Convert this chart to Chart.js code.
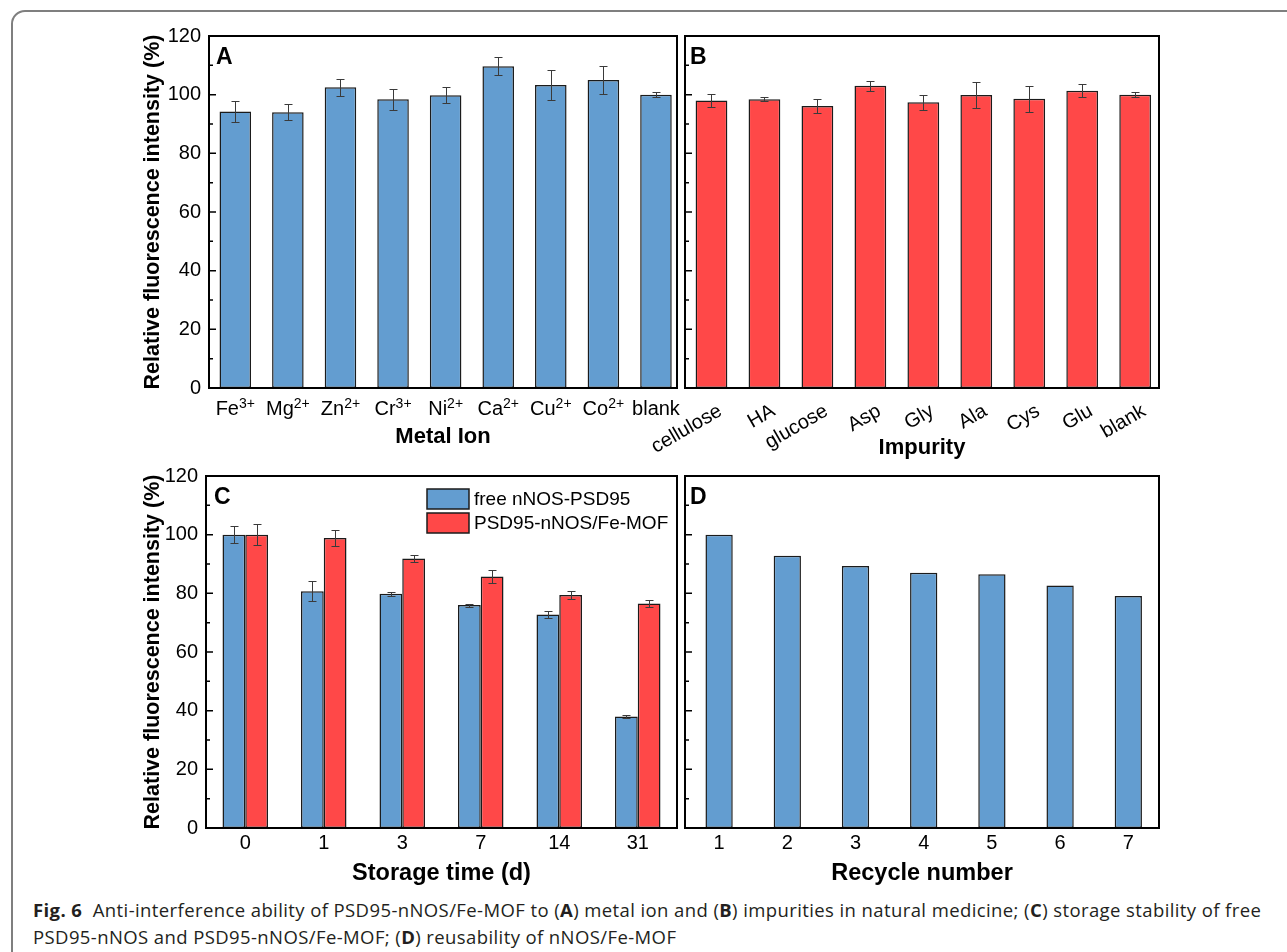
<!DOCTYPE html>
<html>
<head>
<meta charset="utf-8">
<script src="https://cdn.jsdelivr.net/npm/chart.js@4.4.0/dist/chart.umd.min.js"></script>
<style>
  body { margin: 0; background: #fff; width: 1287px; height: 952px; overflow: hidden; position: relative; }
  .frame { position: absolute; left: 11px; top: 10px; width: 1400px; height: 1000px; border: 2px solid #7f7f7f; border-radius: 14px; }
  canvas { position: absolute; }
  .caption { position: absolute; left: 33px; top: 896px; font-family: "Open Sans", sans-serif; font-size: 18.5px; letter-spacing: 0.4px; line-height: 27px; color: #231f20; white-space: nowrap; }
</style>
</head>
<body>
<div class="frame"></div>
<canvas id="chartA"></canvas>
<canvas id="chartB"></canvas>
<canvas id="chartC"></canvas>
<canvas id="chartD"></canvas>
<div class="caption"><b>Fig. 6</b>&nbsp; Anti-interference ability of PSD95-nNOS/Fe-MOF to (<b>A</b>) metal ion and (<b>B</b>) impurities in natural medicine; (<b>C</b>) storage stability of free<br>PSD95-nNOS and PSD95-nNOS/Fe-MOF; (<b>D</b>) reusability of nNOS/Fe-MOF</div>
<script>
// Data
const metalIons = ["Fe3+", "Mg2+", "Zn2+", "Cr3+", "Ni2+", "Ca2+", "Cu2+", "Co2+", "blank"];
const metalValues = [94.3, 94.0, 102.5, 98.4, 99.8, 109.7, 103.3, 105.0, 100.0];
const metalErrors = [3.6, 2.7, 3.0, 3.7, 2.7, 3.1, 5.0, 4.7, 0.9];

const impurities = ["cellulose", "HA", "glucose", "Asp", "Gly", "Ala", "Cys", "Glu", "blank"];
const impurityValues = [98.0, 98.4, 96.1, 103.0, 97.4, 99.9, 98.6, 101.3, 100.0];
const impurityErrors = [2.3, 0.7, 2.4, 1.8, 2.6, 4.4, 4.5, 2.2, 0.9];

const storageDays = ["0", "1", "3", "7", "14", "31"];
const freeValues = [100.0, 80.7, 79.9, 76.0, 72.8, 38.0];
const freeErrors = [3.0, 3.4, 0.7, 0.5, 1.2, 0.6];
const mofValues = [100.0, 98.9, 91.9, 85.7, 79.4, 76.5];
const mofErrors = [3.6, 2.7, 1.2, 2.3, 1.5, 1.2];

const recycleNumbers = ["1", "2", "3", "4", "5", "6", "7"];
const recycleValues = [100.0, 92.8, 89.3, 87.0, 86.5, 82.7, 79.1];

const yTicks = [0, 20, 40, 60, 80, 100, 120];
const yMinorStep = 10;

const BLUE = "rgb(99,157,208)";
const RED = "rgb(255,72,72)";
const FONT = "'Liberation Sans', Arial, sans-serif";
const Y_TITLE = "Relative fluorescence intensity (%)";

Chart.defaults.font.family = FONT;
Chart.defaults.color = "#000";

// size a canvas so that its plot area lands on the given page box
function placeCanvas(id, plot, pad) {
  const c = document.getElementById(id);
  c.width = plot.right - plot.left + pad.l + pad.r;
  c.height = plot.bottom - plot.top + pad.t + pad.b;
  c.style.left = plot.left - pad.l + "px";
  c.style.top = plot.top - pad.t + "px";
  return c;
}

function points(values, start) {
  return values.map((v, i) => ({ x: i + start, y: v }));
}

function barSet(label, values, errors, color, start, catPct) {
  return {
    label: label,
    data: points(values, start),
    errors: errors,
    backgroundColor: color,
    borderColor: "#1b1b1b",
    borderWidth: 1.5,
    borderSkipped: false,
    categoryPercentage: catPct,
    barPercentage: 1.0,
  };
}

function yAxis(pad, showLabels, titlePad) {
  return {
    min: 0,
    max: 120,
    afterBuildTicks: (s) => { s.ticks = yTicks.map((v) => ({ value: v })); },
    ticks: { display: showLabels, font: { size: 20 }, color: "#000", padding: 8 },
    grid: { display: false, drawTicks: false },
    border: { display: false },
    title: { display: showLabels, text: Y_TITLE, font: { size: 21.5, weight: "bold" }, color: "#000", padding: { top: titlePad, bottom: 0 } },
    afterFit: (s) => { s.width = pad.l; },
  };
}

function xAxis(labels, start, min, max, pad, title, titleSize, titlePad, showTicks) {
  return {
    type: "linear",
    min: min,
    max: max,
    offset: false,
    afterBuildTicks: (s) => { s.ticks = labels.map((_, i) => ({ value: i + start })); },
    ticks: {
      display: showTicks,
      font: { size: 20 },
      color: "#000",
      padding: 3,
      maxRotation: 0,
      callback: (v) => labels[Math.round(v - start)],
    },
    grid: { display: false, drawTicks: false },
    border: { display: false },
    title: { display: true, text: title, font: { size: titleSize, weight: "bold" }, color: "#000", padding: { top: 0, bottom: titlePad } },
    afterFit: (s) => { s.height = pad.b; },
  };
}

// frame, inward ticks, error bars, panel letter, custom labels and legend
const panelDecor = {
  id: "panelDecor",
  afterDraw(chart, args, o) {
    const ctx = chart.ctx;
    const area = chart.chartArea;
    const x = chart.scales.x;
    const y = chart.scales.y;
    ctx.save();

    // error bars
    ctx.strokeStyle = "#3a3a3a";
    ctx.lineWidth = 1;
    chart.data.datasets.forEach((ds, i) => {
      if (!ds.errors) return;
      chart.getDatasetMeta(i).data.forEach((bar, j) => {
        const v = ds.data[j].y;
        const top = Math.round(y.getPixelForValue(v + ds.errors[j])) + 0.5;
        const bot = Math.round(y.getPixelForValue(v - ds.errors[j])) + 0.5;
        const bx = Math.round(bar.x) + 0.5;
        ctx.beginPath();
        ctx.moveTo(bx, top); ctx.lineTo(bx, bot);
        ctx.moveTo(bx - 4, top); ctx.lineTo(bx + 4, top);
        ctx.moveTo(bx - 4, bot); ctx.lineTo(bx + 4, bot);
        ctx.stroke();
      });
    });

    // inward ticks on the left axis
    ctx.strokeStyle = "#000";
    ctx.lineWidth = 1.5;
    ctx.beginPath();
    for (let v = y.min; v <= y.max; v += yMinorStep) {
      const py = y.getPixelForValue(v);
      const len = yTicks.includes(v) ? 7 : 4;
      ctx.moveTo(area.left, py);
      ctx.lineTo(area.left + len, py);
    }
    ctx.stroke();

    // plot frame
    ctx.lineWidth = 2;
    ctx.strokeRect(area.left, area.top, area.right - area.left, area.bottom - area.top);

    // panel letter
    ctx.fillStyle = "#000";
    ctx.font = "bold 23px " + FONT;
    ctx.textAlign = "left";
    ctx.textBaseline = "middle";
    ctx.fillText(o.letter, area.left + o.letterDx, area.top + 22);

    // x labels with superscript charges
    if (o.xLabels === "sup") {
      o.labels.forEach((lab, i) => {
        const m = lab.match(/^([A-Za-z]+)(\d\+)?$/);
        const base = m[1];
        const sup = m[2] || "";
        ctx.font = "20px " + FONT;
        const wb = ctx.measureText(base).width;
        ctx.font = "14px " + FONT;
        const ws = ctx.measureText(sup).width;
        const px = x.getPixelForValue(i + o.start) - (wb + ws) / 2;
        ctx.textBaseline = "alphabetic";
        ctx.font = "20px " + FONT;
        ctx.fillText(base, px, area.bottom + 27);
        ctx.font = "14px " + FONT;
        ctx.fillText(sup, px + wb, area.bottom + 20);
      });
    }

    // rotated x labels
    if (o.xLabels === "rot") {
      ctx.font = "20px " + FONT;
      ctx.textAlign = "right";
      ctx.textBaseline = "top";
      o.labels.forEach((lab, i) => {
        ctx.save();
        ctx.translate(x.getPixelForValue(i + o.start) + 4, area.bottom + 13);
        ctx.rotate(-Math.PI / 6);
        ctx.fillText(lab, 0, 0);
        ctx.restore();
      });
    }

    // legend inside the plot
    if (o.legend) {
      ctx.font = "19px " + FONT;
      ctx.textAlign = "left";
      ctx.textBaseline = "middle";
      chart.data.datasets.forEach((ds, i) => {
        const bx = area.left + 221;
        const by = area.top + 13 + i * 24;
        ctx.fillStyle = ds.backgroundColor;
        ctx.fillRect(bx, by, 42, 20);
        ctx.strokeStyle = "#1b1b1b";
        ctx.lineWidth = 1.5;
        ctx.strokeRect(bx, by, 42, 20);
        ctx.fillStyle = "#000";
        ctx.fillText(ds.label, bx + 47, by + 11);
      });
    }
    ctx.restore();
  },
};

function makeChart(id, plot, pad, datasets, xScale, yScale, decor) {
  const canvas = placeCanvas(id, plot, pad);
  return new Chart(canvas, {
    type: "bar",
    data: { datasets: datasets },
    options: {
      responsive: false,
      animation: false,
      events: [],
      layout: { padding: { left: 0, top: pad.t, right: pad.r, bottom: 0 } },
      scales: { x: xScale, y: yScale },
      plugins: { legend: { display: false }, tooltip: { enabled: false }, panelDecor: decor },
    },
    plugins: [panelDecor],
  });
}

// A: metal ions
const padA = { l: 79, t: 20, r: 8, b: 80 };
makeChart("chartA", { left: 209, top: 36, right: 677, bottom: 388 }, padA,
  [barSet("Metal Ion", metalValues, metalErrors, BLUE, 1, 0.6)],
  xAxis(metalIons, 1, 0.5, 9.4, padA, "Metal Ion", 22, 17.8, false),
  yAxis(padA, true, 10.2),
  { letter: "A", letterDx: 7, xLabels: "sup", labels: metalIons, start: 1 });

// B: impurities
const padB = { l: 60, t: 20, r: 11, b: 80 };
makeChart("chartB", { left: 685, top: 36, right: 1159, bottom: 388 }, padB,
  [barSet("Impurity", impurityValues, impurityErrors, RED, 1, 0.6)],
  xAxis(impurities, 1, 0.5, 9.45, padB, "Impurity", 22, 6.8, false),
  yAxis(padB, false, 0),
  { letter: "B", letterDx: 5, xLabels: "rot", labels: impurities, start: 1 });

// C: storage stability
const padC = { l: 79, t: 20, r: 8, b: 62 };
makeChart("chartC", { left: 206, top: 476, right: 677, bottom: 828 }, padC,
  [barSet("free nNOS-PSD95", freeValues, freeErrors, BLUE, 0, 0.58),
   barSet("PSD95-nNOS/Fe-MOF", mofValues, mofErrors, RED, 0, 0.58)],
  xAxis(storageDays, 0, -0.5, 5.5, padC, "Storage time (d)", 23.5, 1.9, true),
  yAxis(padC, true, 13.2),
  { letter: "C", letterDx: 8, legend: true });

// D: reusability
const padD = { l: 5, t: 20, r: 11, b: 62 };
makeChart("chartD", { left: 685, top: 476, right: 1159, bottom: 828 }, padD,
  [barSet("nNOS/Fe-MOF", recycleValues, null, BLUE, 1, 0.4)],
  xAxis(recycleNumbers, 1, 0.5, 7.45, padD, "Recycle number", 23.5, 1.9, true),
  yAxis(padD, false, 0),
  { letter: "D", letterDx: 5 });
</script>
</body>
</html>
